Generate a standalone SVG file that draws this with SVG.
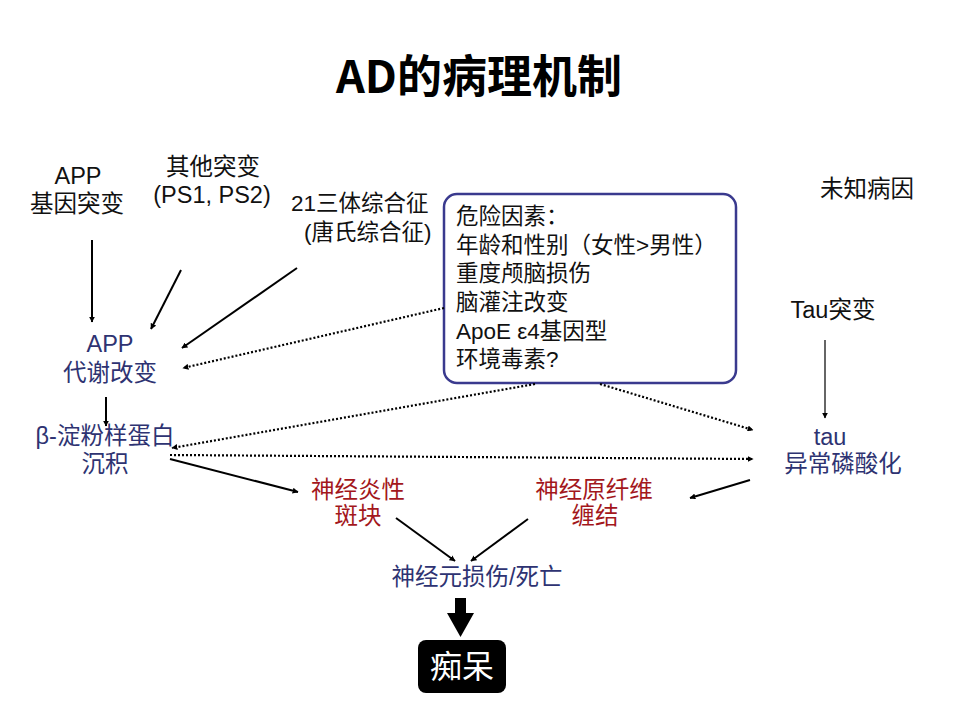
<svg xmlns="http://www.w3.org/2000/svg" width="960" height="720" viewBox="0 0 960 720">
<style>
text{font-family:"Liberation Sans","Noto Sans CJK SC",sans-serif;font-size:23.5px;fill:#111}
.c{text-anchor:middle}
.navy{fill:#2e3372}
.red{fill:#a3171c}
.box{font-size:22.5px}
.title{font-family:"Noto Sans CJK SC",sans-serif;font-weight:bold;font-size:45px;fill:#000}
.s{stroke:#000;stroke-width:2;fill:none}
.d{stroke:#000;stroke-width:2.2;fill:none;stroke-dasharray:2 2}
</style>
<defs>
<marker id="ah" viewBox="0 0 10 10" refX="9" refY="5" markerWidth="6" markerHeight="6" markerUnits="userSpaceOnUse" orient="auto"><path d="M0,0 L10,5 L0,10 z" fill="#000"/></marker>
</defs>
<rect width="960" height="720" fill="#fff"/>
<text class="title c" x="479" y="93">AD的病理机制</text>

<g id="app-mut"><text class="c" x="78" y="184">APP</text><text class="c" x="77" y="212">基因突变</text></g>
<g id="other-mut"><text class="c" x="213" y="175">其他突变</text><text class="c" x="212" y="203">(PS1, PS2)</text></g>
<g id="trisomy"><text x="291" y="211" style="font-size:22.5px">21三体综合征</text><text x="304" y="240" style="font-size:22.5px">(唐氏综合征)</text></g>
<g id="risk">
<rect x="444" y="194" width="292" height="189" rx="13" fill="#fff" stroke="#3a3a8e" stroke-width="2.5"/>
<text class="box" x="456" y="224">危险因素：</text>
<text class="box" x="456" y="253">年龄和性别（女性&gt;男性）</text>
<text class="box" x="456" y="281">重度颅脑损伤</text>
<text class="box" x="456" y="310">脑灌注改变</text>
<text class="box" x="456" y="339">ApoE ε4基因型</text>
<text class="box" x="456" y="367">环境毒素?</text>
</g>
<g id="unknown"><text class="c" x="867" y="197">未知病因</text></g>
<g id="tau-mut"><text class="c" x="833" y="318">Tau突变</text></g>
<g id="tau"><text class="c navy" x="830" y="445">tau</text><text class="c navy" x="843" y="472">异常磷酸化</text></g>
<g id="app-met"><text class="c navy" x="110" y="352">APP</text><text class="c navy" x="110" y="381">代谢改变</text></g>
<g id="abeta"><text class="c navy" x="105" y="444">β-淀粉样蛋白</text><text class="c navy" x="105" y="472">沉积</text></g>
<g id="plaque"><text class="c red" x="358" y="498">神经炎性</text><text class="c red" x="358" y="524">斑块</text></g>
<g id="tangle"><text class="c red" x="594" y="498">神经原纤维</text><text class="c red" x="595" y="524">缠结</text></g>
<g id="neuron"><text class="c navy" x="477" y="585">神经元损伤/死亡</text></g>
<g id="dementia"><rect x="418" y="640" width="88" height="53" rx="8" fill="#000"/><text class="c" x="462" y="678" style="fill:#fff;font-size:32px">痴呆</text></g>

<g id="connectors">
<line class="s" x1="92" y1="240" x2="92" y2="322" marker-end="url(#ah)"/>
<line class="s" x1="181" y1="270" x2="151" y2="329" marker-end="url(#ah)"/>
<line class="s" x1="297" y1="268" x2="182" y2="348" marker-end="url(#ah)"/>
<line class="s" x1="106" y1="397" x2="106" y2="426" marker-end="url(#ah)"/>
<line class="d" x1="444" y1="308" x2="183" y2="368" marker-end="url(#ah)"/>
<line class="d" x1="535" y1="384" x2="172" y2="448" marker-end="url(#ah)"/>
<line class="d" x1="600" y1="384" x2="753" y2="430" marker-end="url(#ah)"/>
<line class="d" x1="170" y1="455" x2="753" y2="459" marker-end="url(#ah)"/>
<line class="s" x1="170" y1="459" x2="298" y2="492" marker-end="url(#ah)"/>
<line x1="825" y1="340" x2="825" y2="418" stroke="#333" stroke-width="1.5" marker-end="url(#ah)"/>
<line class="s" x1="750" y1="480" x2="690" y2="498" marker-end="url(#ah)"/>
<line class="s" x1="396" y1="518" x2="455" y2="561" marker-end="url(#ah)"/>
<line class="s" x1="528" y1="519" x2="471" y2="561" marker-end="url(#ah)"/>
<path d="M455,598 H466 V613 H474 L460.5,637 L447,613 H455 Z" fill="#000"/>
</g>
</svg>
